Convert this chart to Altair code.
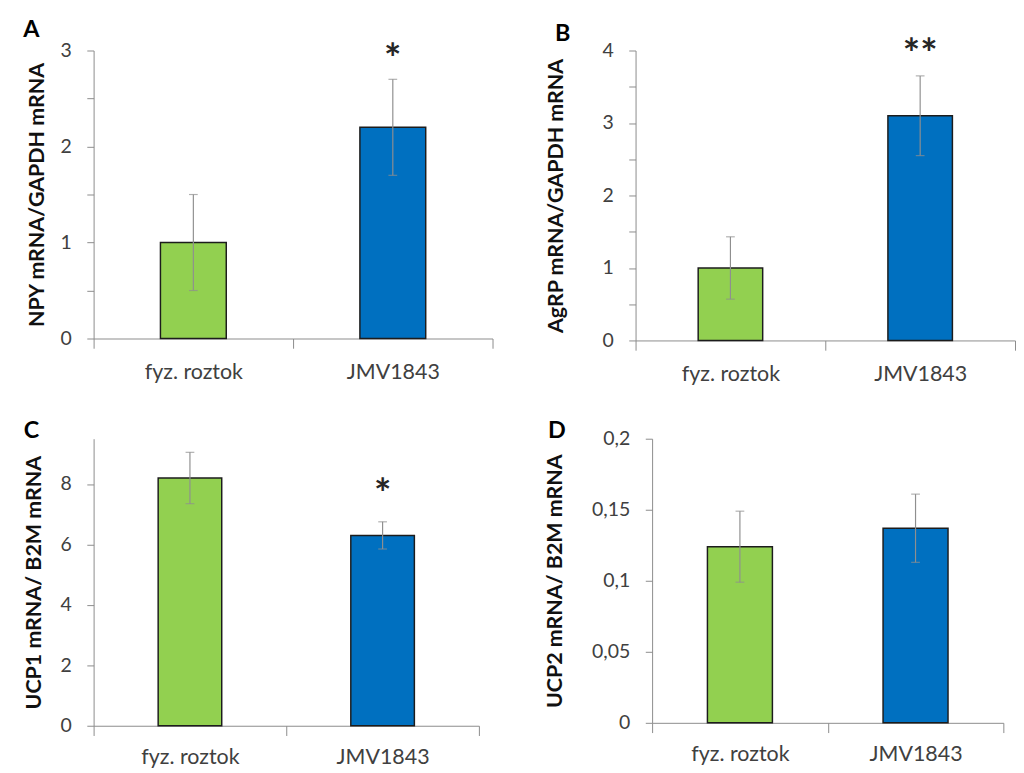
import altair as alt
import pandas as pd

# ---------------- data ----------------
categories = ["fyz. roztok", "JMV1843"]
bar_colors = ["#92D050", "#0070C0"]
letters = ["A", "B", "C", "D"]
y_titles = ["NPY mRNA/GAPDH  mRNA", "AgRP mRNA/GAPDH mRNA",
            "UCP1 mRNA/ B2M mRNA", "UCP2 mRNA/ B2M mRNA"]

npy_mean = [1.0, 2.2]
npy_err = [0.5, 0.5]
agrp_mean = [1.0, 3.1]
agrp_err = [0.43, 0.55]
ucp1_mean = [8.2, 6.3]
ucp1_err = [0.85, 0.45]
ucp2_mean = [0.124, 0.137]
ucp2_err = [0.025, 0.024]

stars = [["", "*"], ["", "**"], ["", "*"], ["", ""]]

y_max = [3, 4, 9.5, 0.2]
y_ticks = [
    [0, 0.5, 1, 1.5, 2, 2.5, 3],
    [0, 0.5, 1, 1.5, 2, 2.5, 3, 3.5, 4],
    [0, 2, 4, 6, 8],
    [0, 0.05, 0.1, 0.15, 0.2],
]

FONT = "Lato"
AX = "#8a8a8a"
ERR = "#8f8f8f"
LBL = "#404040"


def panel(i, mean, err, width, height, band, star_dy, letter_xy, title_pad,
          label_expr, x_pad):
    df = pd.DataFrame({
        "cat": categories,
        "mean": mean,
        "lo": [m - e for m, e in zip(mean, err)],
        "hi": [m + e for m, e in zip(mean, err)],
        "star": stars[i],
    })
    base = alt.Chart(df)

    x_enc = alt.X(
        "cat:N", sort=categories, title=None,
        scale=alt.Scale(domain=categories, paddingInner=0, paddingOuter=0),
        axis=alt.Axis(tickBand="extent", labelAngle=0, tickSize=10, labelPadding=x_pad,
                      labelFont=FONT, labelFontSize=22, labelColor=LBL,
                      domainColor=AX, tickColor=AX, domainWidth=1, tickWidth=1),
    )

    def y_enc(field):
        return alt.Y(
            f"{field}:Q", title=y_titles[i],
            scale=alt.Scale(domain=[0, y_max[i]], nice=False, zero=True),
            axis=alt.Axis(values=y_ticks[i], labelExpr=label_expr, grid=False,
                          tickSize=7, labelPadding=16, labelFont=FONT, labelFontSize=20,
                          labelColor=LBL, domainColor=AX, tickColor=AX,
                          domainWidth=1, tickWidth=1,
                          titleFont=FONT, titleFontSize=22, titleFontWeight="bold",
                          titleColor="#111111", titlePadding=title_pad),
        )

    bars = base.mark_bar(width=alt.RelativeBandSize(band), stroke="#1c1c1c",
                         strokeWidth=1.5).encode(
        x=x_enc, y=y_enc("mean"),
        color=alt.Color("cat:N", scale=alt.Scale(domain=categories, range=bar_colors),
                        legend=None),
    )
    rule = base.mark_rule(color=ERR, strokeWidth=1.2).encode(
        x=x_enc, y=y_enc("lo"), y2="hi:Q")
    cap_lo = base.mark_tick(color=ERR, size=9, thickness=1.2).encode(x=x_enc, y=y_enc("lo"))
    cap_hi = base.mark_tick(color=ERR, size=9, thickness=1.2).encode(x=x_enc, y=y_enc("hi"))
    star = base.mark_text(font=FONT, fontSize=42, fontWeight="bold", color="#262626",
                          baseline="middle", dy=star_dy).encode(
        x=x_enc, y=y_enc("hi"), text="star:N")
    letter = alt.Chart(pd.DataFrame({"letter": [letters[i]]})).mark_text(
        font=FONT, fontSize=24, fontWeight="bold", color="#000000",
        x=letter_xy[0], y=letter_xy[1], baseline="middle", align="center",
    ).encode(text="letter:N")

    return alt.layer(bars, rule, cap_lo, cap_hi, star, letter).properties(
        width=width, height=height)


int_only = "datum.value % 1 == 0 ? toString(datum.value) : ''"
plain = "datum.label"
comma = "replace(toString(datum.value), '.', ',')"

pA = panel(0, npy_mean, npy_err, 410, 296, 0.33, -19, (-64, -21), 11.5, int_only, 14)
pB = panel(1, agrp_mean, agrp_err, 390, 298, 0.34, -21, (-75, -17), 35, int_only, 14)
pC = panel(2, ucp1_mean, ucp1_err, 396, 295, 0.33, -27, (-64, -8), 15, plain, 12)
pD = panel(3, ucp2_mean, ucp2_err, 361, 292, 0.37, -20, (-98, -8), 26, comma, 12)

row1 = alt.hconcat(pA, pB, spacing=53)
row2 = alt.hconcat(pC, pD, spacing=65)

chart = alt.vconcat(row1, row2, spacing=21).properties(
    padding={"left": 15, "top": 0, "right": 0, "bottom": 0}
).configure_view(stroke=None)

chart.save("out.html", embed_options={"renderer": "svg", "actions": False})
